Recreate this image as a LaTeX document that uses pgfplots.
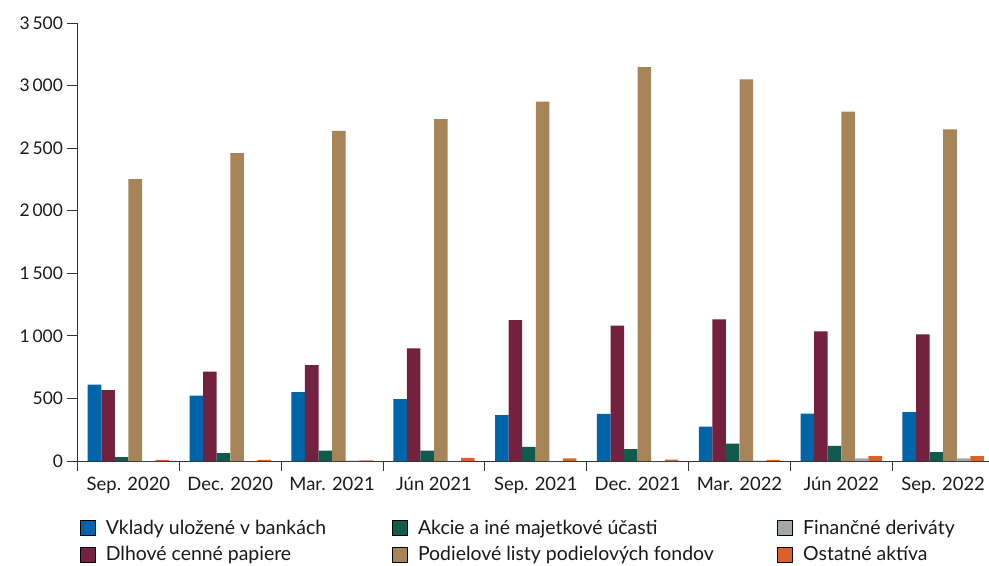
\documentclass[border=0pt]{standalone}
\usepackage{pgfplots}
\usepackage{pgfplotstable}
\pgfplotsset{compat=1.18}
\usepackage{fontspec}
\setmainfont{Lato}
\definecolor{cBlue}{HTML}{0064A8}
\definecolor{cMaroon}{HTML}{73213F}
\definecolor{cGreen}{HTML}{105B4E}
\definecolor{cBrown}{HTML}{A68458}
\definecolor{cGray}{HTML}{A2A7AA}
\definecolor{cOrange}{HTML}{D9622B}
\definecolor{cAxis}{HTML}{333333}
\pgfplotstableread{
x blue maroon green brown gray orange
0 610 567 30 2253 0 10
1 522 714 62 2460 0 10
2 550 766 82 2638 3 5
3 494 900 82 2732 2 24
4 366 1126 112 2872 0 20
5 376 1082 94 3148 0 12
6 274 1132 138 3050 3 10
7 378 1036 120 2792 20 38
8 390 1012 70 2650 20 38
}\data
\begin{document}
\begin{tikzpicture}
\begin{axis}[
  scale only axis, width=911.5bp, height=438bp,
  xmin=-0.5, xmax=8.45, ymin=0, ymax=3500,
  axis x line*=bottom, axis y line*=left,
  axis line style={cAxis, line width=0.8bp},
  ytick={0,500,...,3500},
  xtick={0,...,8},
  xticklabels={Sep. 2020, Dec. 2020, Mar. 2021, Jún 2021, Sep. 2021, Dec. 2021, Mar. 2022, Jún 2022, Sep. 2022},
  major x tick style={draw=none},
  minor xtick={-0.5,0.5,...,7.5},
  tick align=outside,
  major tick length=10bp, minor tick length=10bp,
  tick style={cAxis, line width=0.8bp},
  yticklabel style={font=\fontsize{17.5}{20}\selectfont, text=black!90, xshift=-1bp},
  xticklabel style={font=\fontsize{18.5}{21}\selectfont, text=black!90, yshift=-3bp},
  /pgf/number format/assume math mode=true,
  /pgf/number format/1000 sep={\,},
  legend image code/.code={\fill[#1] (0bp,-7.5bp) rectangle (15bp,7.5bp); \path[draw=none,fill=none] (0bp,0bp) -- (24bp,0bp);},
  legend columns=3,
  legend style={at={(0,0)}, anchor=north west, xshift=-1bp, yshift=-55bp, draw=none,
    font=\fontsize{19.5}{22}\selectfont, row sep=6.5bp, text=black!90,
    /tikz/every even column/.append style={column sep=0bp},
    /tikz/every odd column/.append style={column sep=0bp}},
  legend cell align=left,
]
\addplot[ybar, bar width=0.133, bar shift=-0.333, fill=cBlue, draw=none, forget plot] table[x=x,y=blue]{\data};
\addplot[ybar, bar width=0.133, bar shift=-0.2, fill=cMaroon, draw=none, forget plot] table[x=x,y=maroon]{\data};
\addplot[ybar, bar width=0.133, bar shift=-0.067, fill=cGreen, draw=none, forget plot] table[x=x,y=green]{\data};
\addplot[ybar, bar width=0.133, bar shift=0.067, fill=cBrown, draw=none, forget plot] table[x=x,y=brown]{\data};
\addplot[ybar, bar width=0.133, bar shift=0.2, fill=cGray, draw=none, forget plot] table[x=x,y=gray]{\data};
\addplot[ybar, bar width=0.133, bar shift=0.333, fill=cOrange, draw=none, forget plot] table[x=x,y=orange]{\data};
\addlegendimage{fill=cBlue}
\addlegendentry{\makebox[284bp][l]{Vklady uložené v bankách}}
\addlegendimage{fill=cGreen}
\addlegendentry{\makebox[357bp][l]{Akcie a iné majetkové účasti}}
\addlegendimage{fill=cGray}
\addlegendentry{Finančné deriváty}
\addlegendimage{fill=cMaroon}
\addlegendentry{\makebox[284bp][l]{Dlhové cenné papiere}}
\addlegendimage{fill=cBrown}
\addlegendentry{\makebox[357bp][l]{Podielové listy podielových fondov}}
\addlegendimage{fill=cOrange}
\addlegendentry{Ostatné aktíva}
\end{axis}
\pgfresetboundingbox
\path (current axis.south west) ++(-77.5bp,-105bp) rectangle ++(989bp,566bp);
\end{tikzpicture}
\end{document}
